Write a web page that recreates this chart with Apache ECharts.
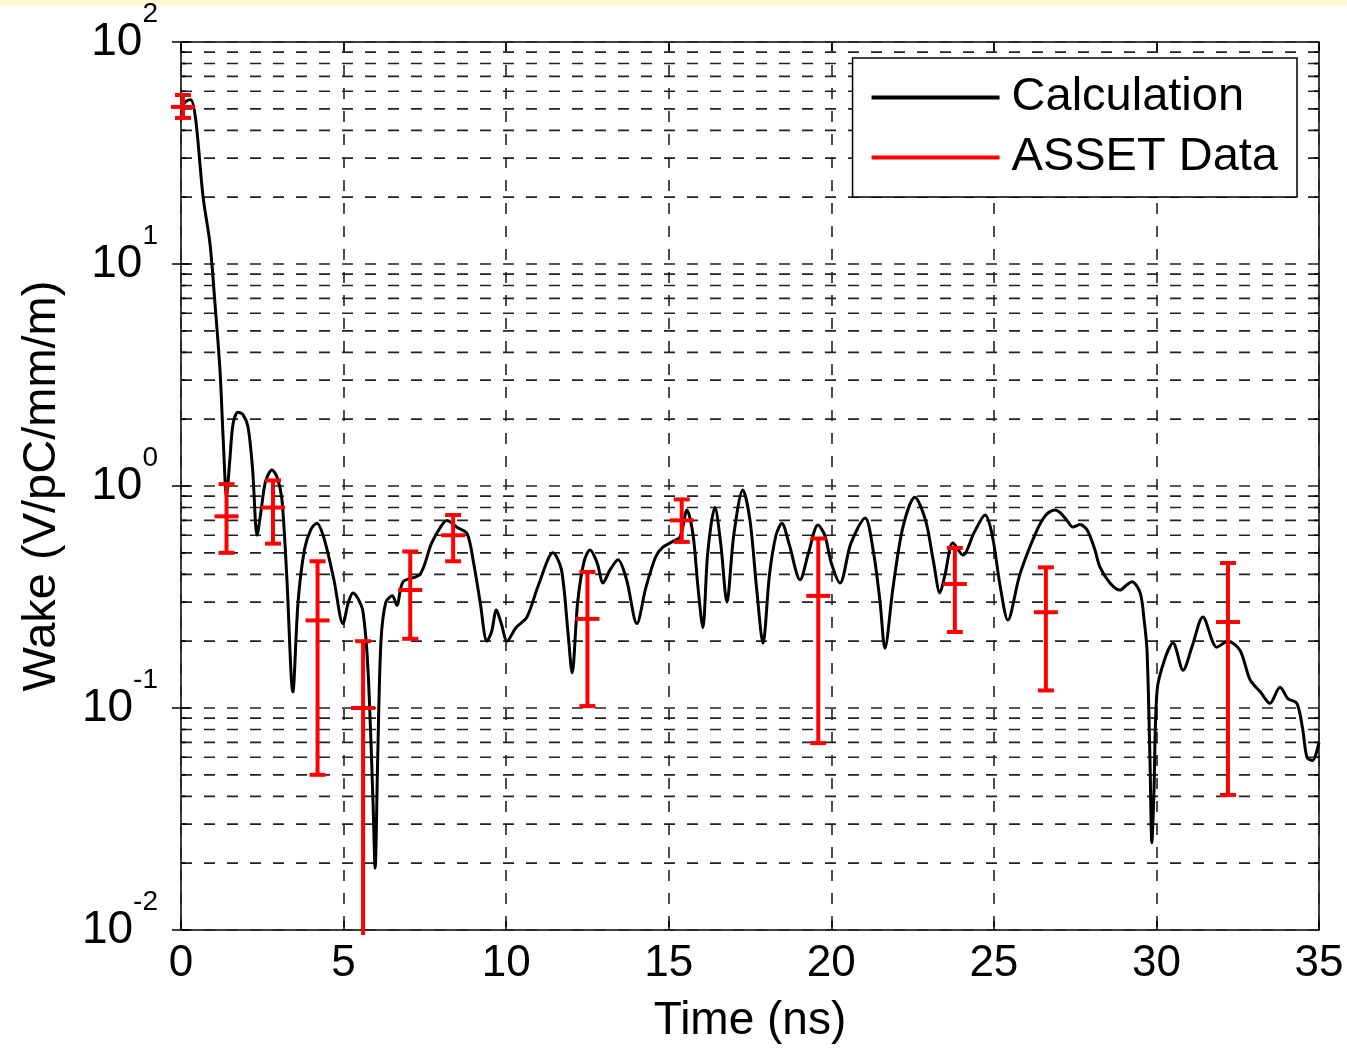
<!DOCTYPE html>
<html>
<head>
<meta charset="utf-8">
<title>Wake</title>
<script src="https://cdn.jsdelivr.net/npm/echarts@6/dist/echarts.min.js"></script>
<style>
html, body { margin: 0; padding: 0; background: #fff; }
#wake { width: 1347px; height: 1050px; }
</style>
</head>
<body>
<div id="wake"></div>
<script>
// calculated wake (black curve)
var calcTime = [0.0, 0.15, 0.3, 0.45, 0.68, 0.89, 1.05, 1.2, 1.3, 1.4, 1.5, 1.6, 1.75, 1.9, 2.06, 2.2, 2.34, 2.45, 2.6, 2.8,
  2.95, 3.1, 3.25, 3.44, 3.6, 3.8, 4.0, 4.18, 4.4, 4.7, 4.98, 5.15, 5.29, 5.45, 5.6, 5.75, 5.9, 5.97, 6.05, 6.15,
  6.3, 6.5, 6.64, 6.83, 7.35, 7.7, 8.0, 8.18, 8.5, 8.8, 9.0, 9.2, 9.41, 9.55, 9.7, 9.85, 10.03, 10.3, 10.64, 11.0,
  11.44, 11.7, 11.9, 12.03, 12.2, 12.4, 12.58, 12.8, 12.98, 13.2, 13.44, 13.7, 14.02, 14.3, 14.6, 14.82, 15.1, 15.35, 15.56, 15.75,
  15.9, 16.05, 16.2, 16.42, 16.6, 16.79, 17.0, 17.28, 17.5, 17.7, 17.9, 18.1, 18.3, 18.48, 18.7, 19.04, 19.3, 19.59, 19.8, 20.0,
  20.27, 20.6, 21.04, 21.3, 21.5, 21.65, 21.9, 22.2, 22.57, 22.9, 23.15, 23.34, 23.5, 23.74, 24.05, 24.4, 24.73, 24.95, 25.2, 25.43,
  25.8, 26.3, 26.6, 26.88, 27.03, 27.25, 27.43, 27.65, 27.87, 28.1, 28.26, 28.57, 28.88, 29.1, 29.25, 29.5, 29.62, 29.71, 29.8, 29.86,
  29.92, 30.02, 30.25, 30.51, 30.82, 31.1, 31.43, 31.86, 32.2, 32.57, 32.88, 33.2, 33.49, 33.8, 34.05, 34.32, 34.5, 34.63, 34.8, 35.0];
var calcWake = [50, 54, 55, 45, 20, 12.4, 6.5, 3.3, 1.6, 0.9, 1.3, 1.9, 2.15, 2.1, 1.85, 1.2, 0.6, 0.75, 1.05, 1.18,
  1.1, 0.88, 0.4, 0.118, 0.3, 0.52, 0.64, 0.68, 0.58, 0.38, 0.24, 0.3, 0.33, 0.31, 0.27, 0.15, 0.04, 0.019, 0.06, 0.2,
  0.3, 0.32, 0.29, 0.37, 0.40, 0.55, 0.66, 0.70, 0.65, 0.61, 0.45, 0.3, 0.2, 0.22, 0.276, 0.24, 0.2, 0.23, 0.257, 0.36,
  0.5, 0.42, 0.22, 0.144, 0.3, 0.46, 0.515, 0.45, 0.366, 0.42, 0.465, 0.38, 0.24, 0.35, 0.48, 0.53, 0.56, 0.59, 0.78, 0.6,
  0.35, 0.23, 0.5, 0.80, 0.55, 0.3, 0.6, 0.96, 0.7, 0.35, 0.196, 0.4, 0.6, 0.68, 0.55, 0.378, 0.5, 0.667, 0.6, 0.45,
  0.366, 0.55, 0.718, 0.5, 0.3, 0.186, 0.35, 0.65, 0.89, 0.7, 0.45, 0.33, 0.4, 0.553, 0.489, 0.62, 0.74, 0.6, 0.35, 0.249,
  0.4, 0.62, 0.74, 0.78, 0.76, 0.7, 0.653, 0.67, 0.633, 0.52, 0.432, 0.366, 0.34, 0.36, 0.37, 0.33, 0.25, 0.182, 0.06, 0.0247,
  0.04, 0.12, 0.165, 0.196, 0.148, 0.19, 0.257, 0.188, 0.2, 0.182, 0.134, 0.118, 0.105, 0.124, 0.11, 0.105, 0.08, 0.06, 0.058, 0.07];

// ASSET measurements with error bars (red)
var assetTime = [0.06, 1.4, 2.83, 4.2, 5.6, 7.05, 8.37, 12.5, 15.4, 19.6, 23.8, 26.6, 32.2];
var assetWake = [51, 0.73, 0.8, 0.248, 0.1, 0.34, 0.60, 0.252, 0.70, 0.32, 0.362, 0.27, 0.244];
var assetLow = [45.5, 0.5, 0.55, 0.05, 0.0095, 0.205, 0.458, 0.102, 0.56, 0.0695, 0.22, 0.12, 0.0406];
var assetHigh = [57.7, 1.02, 1.06, 0.458, 0.2, 0.507, 0.74, 0.41, 0.87, 0.58, 0.526, 0.43, 0.45];

var yMin = 0.01, yMax = 100;
var decades = [0.01, 0.1, 1, 10];
var minorSteps = [2, 3, 4, 5, 6, 7, 8, 9];

var fontName = 'Liberation Sans, Arial, sans-serif';
var dash = [11, 12];

var minorLines = [];
decades.forEach(function(d) {
  minorSteps.forEach(function(m) { minorLines.push([0, d * m]); });
});

var myChart = echarts.init(document.getElementById('wake'));

// minor log grid lines + small inward ticks on left/right edge
function renderMinor(params, api) {
  var cs = params.coordSys;
  var y = api.coord([0, api.value(1)])[1];
  return {
    type: 'group',
    silent: true,
    children: [
      { type: 'line', shape: { x1: cs.x, y1: y, x2: cs.x + cs.width, y2: y },
        style: { stroke: '#222', lineWidth: 1.6, lineDash: dash } },
      { type: 'line', shape: { x1: cs.x, y1: y, x2: cs.x + 5, y2: y },
        style: { stroke: '#000', lineWidth: 1.6 } },
      { type: 'line', shape: { x1: cs.x + cs.width - 5, y1: y, x2: cs.x + cs.width, y2: y },
        style: { stroke: '#000', lineWidth: 1.6 } }
    ]
  };
}

function renderBar(params, api) {
  var t = api.value(0);
  var pc = api.coord([t, api.value(1)]);
  var pl = api.coord([t, api.value(2)]);
  var ph = api.coord([t, api.value(3)]);
  var st = { stroke: '#ff0000', lineWidth: 4 };
  var kids = [
    { type: 'line', shape: { x1: pc[0], y1: pl[1], x2: pc[0], y2: ph[1] }, style: st },
    { type: 'line', shape: { x1: pc[0] - 8, y1: ph[1], x2: pc[0] + 8, y2: ph[1] }, style: st },
    { type: 'line', shape: { x1: pc[0] - 12, y1: pc[1], x2: pc[0] + 12, y2: pc[1] }, style: st }
  ];
  if (api.value(2) >= yMin) {
    kids.push({ type: 'line', shape: { x1: pc[0] - 8, y1: pl[1], x2: pc[0] + 8, y2: pl[1] }, style: st });
  }
  return { type: 'group', children: kids };
}

option = {
  backgroundColor: '#ffffff',
  animation: false,
  graphic: [
    { type: 'rect', left: 0, top: 0, shape: { width: 1347, height: 5 }, style: { fill: '#fdfbd2' }, silent: true }
  ],
  grid: {
    left: 181, right: 28, top: 42, bottom: 120,
    containLabel: false,
    outerBoundsMode: 'none',
    show: true, borderColor: '#000', borderWidth: 1.5, backgroundColor: 'transparent'
  },
  legend: {
    orient: 'vertical',
    right: 50, top: 58,
    backgroundColor: '#fff',
    borderColor: '#000', borderWidth: 1.5, borderRadius: 0,
    padding: [16, 19, 16, 19],
    itemGap: 13,
    itemWidth: 128, itemHeight: 4,
    textStyle: { fontSize: 47, color: '#000', fontFamily: fontName, padding: [0, 0, 0, 7] },
    data: [
      { name: 'Calculation', icon: 'rect' },
      { name: 'ASSET Data', icon: 'rect' }
    ]
  },
  xAxis: [
    {
      type: 'value', min: 0, max: 35, interval: 5,
      name: 'Time (ns)', nameLocation: 'middle', nameGap: 68,
      nameTextStyle: { fontSize: 46, color: '#000', fontFamily: fontName },
      axisLine: { show: false },
      axisTick: { inside: true, length: 9, lineStyle: { color: '#000', width: 1.5 } },
      axisLabel: { fontSize: 44, color: '#000', fontFamily: fontName, margin: 12 },
      splitLine: { show: true, lineStyle: { color: '#222', width: 1.6, type: dash } }
    },
    {
      type: 'value', min: 0, max: 35, interval: 5, position: 'top',
      axisLine: { show: false },
      axisTick: { inside: true, length: 9, lineStyle: { color: '#000', width: 1.5 } },
      axisLabel: { show: false },
      splitLine: { show: false }
    }
  ],
  yAxis: [
    {
      type: 'log', logBase: 10, min: yMin, max: yMax,
      name: 'Wake (V/pC/mm/m)', nameLocation: 'middle', nameGap: 115, nameRotate: 90,
      nameTextStyle: { fontSize: 47, color: '#000', fontFamily: fontName },
      axisLine: { show: false },
      axisTick: { inside: true, length: 9, lineStyle: { color: '#000', width: 1.5 } },
      axisLabel: {
        margin: 23,
        formatter: function(v) {
          var e = Math.round(Math.log(v) / Math.LN10);
          return '{b|10}{s|' + e + '}';
        },
        rich: {
          b: { fontSize: 46, lineHeight: 46, color: '#000', fontFamily: fontName, verticalAlign: 'bottom' },
          s: { fontSize: 28, lineHeight: 28, color: '#000', fontFamily: fontName, verticalAlign: 'bottom', padding: [0, 0, 37, 0] }
        }
      },
      splitLine: { show: true, lineStyle: { color: '#222', width: 1.6, type: dash } }
    },
    {
      type: 'log', logBase: 10, min: yMin, max: yMax, position: 'right',
      axisLine: { show: false },
      axisTick: { inside: true, length: 9, lineStyle: { color: '#000', width: 1.5 } },
      axisLabel: { show: false },
      splitLine: { show: false }
    }
  ],
  series: [
    {
      name: 'minor grid',
      type: 'custom',
      renderItem: renderMinor,
      data: minorLines,
      silent: true,
      z: 1
    },
    {
      name: 'Calculation',
      type: 'line',
      color: '#000',
      data: calcTime.map(function(t, i) { return [t, calcWake[i]]; }),
      showSymbol: false,
      smooth: 0.3,
      lineStyle: { color: '#000', width: 3 },
      z: 3
    },
    {
      name: 'ASSET Data',
      type: 'custom',
      color: '#ff0000',
      itemStyle: { color: '#ff0000' },
      renderItem: renderBar,
      encode: { x: 0, y: [1, 2, 3] },
      data: assetTime.map(function(t, i) { return [t, assetWake[i], assetLow[i], assetHigh[i]]; }),
      z: 4
    }
  ]
};

myChart.setOption(option);

window.addEventListener('resize', function() {
  myChart.resize();
});
</script>
</body>
</html>
